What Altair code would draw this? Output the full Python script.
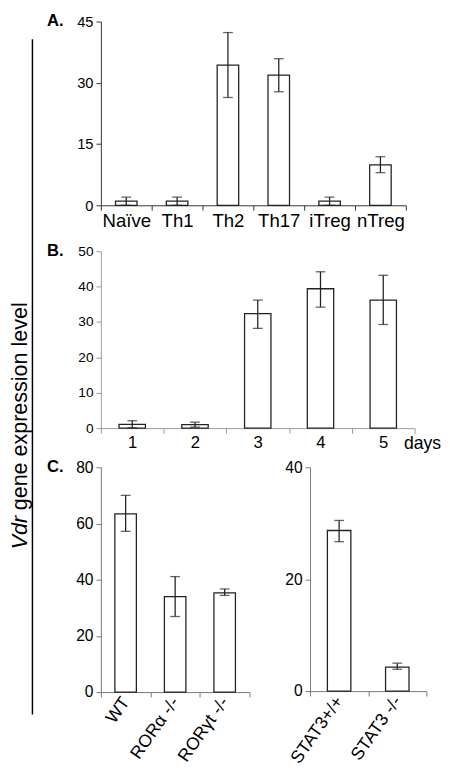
import altair as alt
import pandas as pd

# ---- data ----
a_cats = ["Naïve", "Th1", "Th2", "Th17", "iTreg", "nTreg"]
a_vals = [1.0, 1.0, 34.3, 31.9, 1.0, 9.9]
a_lo = [0.0, 0.0, 26.4, 27.8, 0.0, 8.0]
a_hi = [2.0, 2.0, 42.3, 35.9, 2.0, 11.9]

b_cats = ["1", "2", "3", "4", "5"]
b_vals = [1.1, 1.0, 32.4, 39.4, 36.2]
b_lo = [0.1, 0.3, 28.2, 34.2, 29.3]
b_hi = [2.1, 1.7, 36.2, 44.2, 43.2]

c1_cats = ["WT", "RORα -/-", "RORγt -/-"]
c1_vals = [63.4, 34.0, 35.3]
c1_lo = [57.2, 26.9, 34.4]
c1_hi = [70.0, 41.1, 36.7]

c2_cats = ["STAT3+/+", "STAT3 -/-"]
c2_vals = [28.7, 4.3]
c2_lo = [26.7, 3.9]
c2_hi = [30.5, 5.0]

FONT = "Liberation Sans"
INK = "#222222"


def panel(cats, vals, lo, hi, width, height, ymax, ystep, barw,
          xfont, yfont, axis_color, angle=0, letter=None, extra=None):
    df = pd.DataFrame({"cat": cats, "v": vals, "lo": lo, "hi": hi})
    xaxis = alt.Axis(tickBand="extent", labelAngle=angle, labelFontSize=xfont,
                     labelColor="black", domainColor=axis_color,
                     tickColor=axis_color, tickSize=5, labelPadding=2,
                     labelFont=FONT, title=None)
    yaxis = alt.Axis(values=list(range(0, ymax + 1, ystep)), labelFontSize=yfont,
                     labelColor="black", domainColor=axis_color,
                     tickColor=axis_color, tickSize=5, labelPadding=3,
                     grid=False, labelFont=FONT, title=None)
    xs = alt.Scale(paddingInner=0, paddingOuter=0)
    ys = alt.Scale(domain=[0, ymax], nice=False)

    def X():
        return alt.X("cat:N", sort=cats, scale=xs, axis=xaxis)

    def Y(f):
        return alt.Y(f + ":Q", scale=ys, axis=yaxis)

    base = alt.Chart(df)
    bars = base.mark_bar(fill="white", stroke=INK, strokeWidth=1.3, size=barw).encode(
        x=X(), y=Y("v"))
    err = base.mark_rule(color=INK, strokeWidth=1.3).encode(
        x=X(), y=Y("lo"), y2="hi:Q")
    cap_hi = base.mark_tick(color=INK, thickness=1.3, size=10).encode(x=X(), y=Y("hi"))
    cap_lo = base.mark_tick(color=INK, thickness=1.3, size=10).encode(x=X(), y=Y("lo"))
    layers = [bars, err, cap_hi, cap_lo]
    if letter:
        layers.append(
            alt.Chart(pd.DataFrame({"t": [letter]})).mark_text(
                align="right", baseline="middle", fontSize=17, fontWeight="bold",
                font=FONT, color="black").encode(
                text="t:N", x=alt.value(-38), y=alt.value(0)))
    if extra:
        layers.append(
            alt.Chart(pd.DataFrame({"t": [extra]})).mark_text(
                align="left", baseline="top", fontSize=18, font=FONT,
                color="black").encode(
                text="t:N", x=alt.value(width - 11), y=alt.value(height + 7)))
    return alt.layer(*layers).properties(width=width, height=height)


pA = panel(a_cats, a_vals, a_lo, a_hi, 312, 188, 45, 15, 22, 19, 15, "#333333", letter="A.")
pB = panel(b_cats, b_vals, b_lo, b_hi, 321, 181, 50, 10, 27, 17, 14, "#999999", letter="B.", extra="days")
pC1 = panel(c1_cats, c1_vals, c1_lo, c1_hi, 152, 230, 80, 20, 22, 18, 16, "#777777", angle=-55, letter="C.")
pC2 = panel(c2_cats, c2_vals, c2_lo, c2_hi, 119, 229, 40, 20, 24, 18, 16, "#777777", angle=-55)

rowC = alt.hconcat(pC1, pC2, spacing=35)
col = alt.vconcat(alt.vconcat(pA, pB, spacing=12), rowC, spacing=6)

# left strip: shared y-axis title and bracket line
strip_df = pd.DataFrame({"a": ["Vdr"], "b": ["gene expression level"]})
line = alt.Chart(strip_df).mark_rule(color="black", strokeWidth=1.5).encode(
    x=alt.value(19), y=alt.value(18), y2=alt.value(709))
t1 = alt.Chart(strip_df).mark_text(angle=270, align="left", baseline="alphabetic",
                                   fontSize=22, font=FONT, fontStyle="italic",
                                   color="black").encode(
    text="a:N", x=alt.value(13), y=alt.value(540))
t2 = alt.Chart(strip_df).mark_text(angle=270, align="left", baseline="alphabetic",
                                   fontSize=22, font=FONT, color="black").encode(
    text="b:N", x=alt.value(13), y=alt.value(500))
strip = alt.layer(line, t1, t2).properties(width=24, height=710)

chart = alt.hconcat(strip, col, spacing=10).properties(
    padding={"left": 0, "top": -4, "right": 0, "bottom": 0}
).configure(font=FONT).configure_view(strokeWidth=0, stroke="transparent")

chart.save("out.html", embed_options={"renderer": "svg", "actions": False})
